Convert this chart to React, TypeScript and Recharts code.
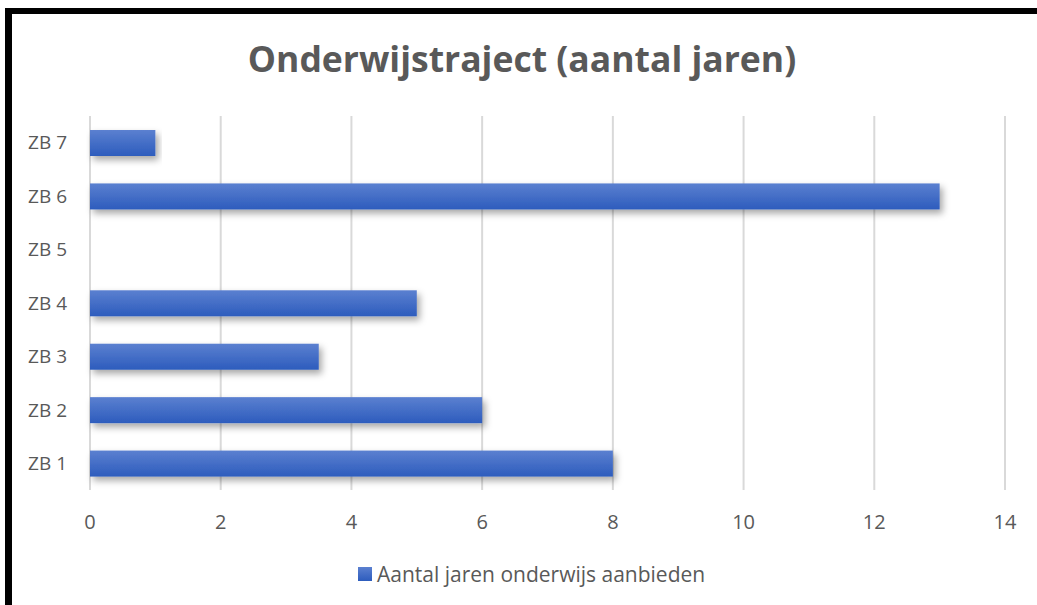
import React from 'react';
import { BarChart, Bar, XAxis, YAxis, CartesianGrid, Legend } from 'recharts';

const categories = ['ZB 1', 'ZB 2', 'ZB 3', 'ZB 4', 'ZB 5', 'ZB 6', 'ZB 7'];
const values = [8, 6, 3.5, 5, 0, 13, 1];
const xTicks = [0, 2, 4, 6, 8, 10, 12, 14];
const seriesName = 'Aantal jaren onderwijs aanbieden';
const chartTitle = 'Onderwijstraject (aantal jaren)';

const data = categories.map((c, i) => ({ name: c, value: values[i] }));

const FONT = "'Open Sans', sans-serif";
const TEXT = '#595959';

const BarShape = (props: any) => {
  const { x, y, width, height } = props;
  if (!width || width <= 0) return null;
  return (
    <rect x={x} y={y} width={width} height={height} fill="url(#barGrad)" filter="url(#barShadow)" />
  );
};

const LegendContent = () => (
  <div style={{ display: 'flex', alignItems: 'center', fontFamily: FONT, fontSize: 21, color: TEXT, whiteSpace: 'nowrap' }}>
    <span
      style={{
        display: 'inline-block',
        width: 14,
        height: 14,
        marginRight: 5,
        background: 'linear-gradient(#5b80d0, #2d5cbd)',
      }}
    />
    <span style={{ lineHeight: '26px' }}>{seriesName}</span>
  </div>
);

export default function App() {
  return (
    <div style={{ position: 'absolute', left: 0, top: 0, width: 1037, height: 605, background: '#fff', overflow: 'hidden' }}>
      <div style={{ position: 'absolute', left: 5, top: 8, width: 7, height: 597, background: '#000' }} />
      <div style={{ position: 'absolute', left: 5, top: 8, width: 1032, height: 6, background: '#000' }} />
      <div
        style={{
          position: 'absolute',
          left: 522,
          top: 41,
          transform: 'translateX(-50%)',
          fontFamily: FONT,
          fontWeight: 700,
          fontSize: 35.5,
          lineHeight: '35.5px',
          color: TEXT,
          whiteSpace: 'nowrap',
        }}
      >
        {chartTitle}
      </div>
      <div style={{ position: 'absolute', left: 0, top: 0 }}>
        <BarChart
          width={1037}
          height={605}
          data={data}
          layout="vertical"
          margin={{ top: 116, right: 32, left: 0, bottom: 59 }}
          barCategoryGap={0}
        >
          <defs>
            <linearGradient id="barGrad" x1="0" y1="0" x2="0" y2="1">
              <stop offset="0%" stopColor="#5b80d0" />
              <stop offset="100%" stopColor="#2d5cbd" />
            </linearGradient>
            <filter id="barShadow" x="-5%" y="-40%" width="115%" height="200%">
              <feDropShadow dx="3" dy="4" stdDeviation="3.5" floodColor="#000" floodOpacity="0.35" />
            </filter>
          </defs>
          <CartesianGrid horizontal={false} stroke="#d9d9d9" strokeWidth={2} />
          <XAxis
            type="number"
            domain={[0, 14]}
            ticks={xTicks}
            axisLine={false}
            tickLine={false}
            tickSize={0}
            tickMargin={25}
            height={30}
            interval={0}
            tick={{ fill: TEXT, fontSize: 20, fontFamily: FONT }}
          />
          <YAxis
            type="category"
            dataKey="name"
            reversed
            width={90}
            axisLine={false}
            tickLine={false}
            tickSize={0}
            tickMargin={23}
            interval={0}
            tick={{ fill: TEXT, fontSize: 19, fontFamily: FONT }}
          />
          <Legend
            verticalAlign="bottom"
            content={<LegendContent />}
            wrapperStyle={{ left: 358, top: 561, bottom: 'auto', width: 'auto', height: 26 }}
          />
          <Bar dataKey="value" name={seriesName} barSize={26} shape={<BarShape />} isAnimationActive={false} />
        </BarChart>
      </div>
    </div>
  );
}
